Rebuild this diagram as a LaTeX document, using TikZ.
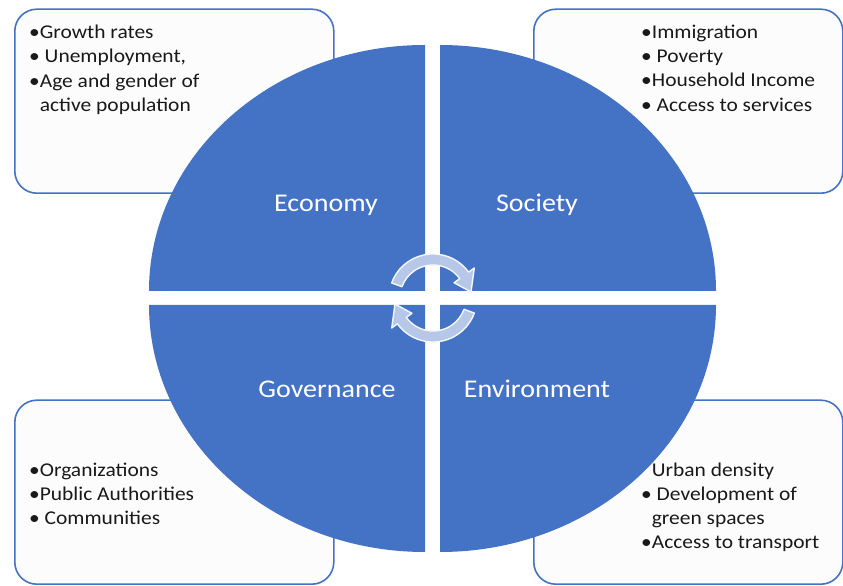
\documentclass[tikz,border=0pt]{standalone}
\usepackage{fontspec}
\setmainfont{Carlito}[FakeStretch=1.1]
\usepackage{tikz}
\usepackage{xcolor}
\usetikzlibrary{positioning}

\definecolor{quadblue}{HTML}{4472C4}
\definecolor{turnfill}{HTML}{B7C7E7}

\begin{document}
\begin{tikzpicture}[x=1pt,y=1pt,
infobox/.style={draw=quadblue,line width=1.6pt,rounded corners=22pt,fill=white!99!black,minimum width=319pt,minimum height=184pt,anchor=south west,inner sep=0pt},
itemlist/.style={align=left,anchor=north west,inner sep=0pt,font=\fontsize{19.5}{24.2}\selectfont,text=black!90},
quad/.style={fill=quadblue,draw=none},
quadlabel/.style={anchor=base,inner sep=0pt,text=white,font=\fontsize{25.5}{30}\selectfont},
turnarrow/.style={fill=turnfill,draw=white!85!turnfill,line width=1.4pt,line join=round},
turn/.pic={\path[turnarrow] (160:44pt) arc[start angle=160,end angle=36,radius=44pt] -- (36:51pt) -- (9:38.5pt) -- (36:26pt) -- (36:33pt) arc[start angle=36,end angle=160,radius=33pt] -- cycle;}
]
\useasboundingbox (0,0) rectangle (843,586);

\node[infobox] (econbox) at (14,392) {};
\node[infobox,minimum width=309pt] (socbox) at (533,392) {};
\node[infobox] (govbox) at (14,1) {};
\node[infobox,minimum width=309pt] (envbox) at (533,1) {};

\node[itemlist] (econlist) at ([shift={(15,-16.5)}]econbox.north west)
  {\textbullet Growth rates\\\textbullet\ Unemployment,\\\textbullet Age and gender of\\\phantom{\textbullet}active population};
\node[itemlist] (soclist) at ([shift={(108,-16.5)}]socbox.north west)
  {\textbullet Immigration\\\textbullet\ Poverty\\\textbullet Household Income\\\textbullet\ Access to services};
\node[itemlist] (govlist) at ([shift={(15,-63)}]govbox.north west)
  {\textbullet Organizations\\\textbullet Public Authorities\\\textbullet\ Communities};
\node[itemlist] (envlist) at ([shift={(108,-63)}]envbox.north west)
  {\phantom{\textbullet}Urban density\\\textbullet\ Development of\\\phantom{\textbullet}green spaces\\\textbullet Access to transport};

\path[quad] (425,295) -- (149,295) arc[start angle=180,end angle=90,x radius=276pt,y radius=246pt] -- cycle;
\path[quad] (440,295) -- (716,295) arc[start angle=0,end angle=90,x radius=276pt,y radius=246pt] -- cycle;
\path[quad] (425,281) -- (149,281) arc[start angle=180,end angle=270,x radius=276pt,y radius=247pt] -- cycle;
\path[quad] (440,281) -- (716,281) arc[start angle=0,end angle=-90,x radius=276pt,y radius=247pt] -- cycle;

\node[quadlabel] (econ) at (326,374) {Economy};
\node[quadlabel] (soc) at (537,374) {Society};
\node[quadlabel] (gov) at (327,188) {Governance};
\node[quadlabel] (env) at (537,188) {Environment};

\pic at (433,288) {turn};
\pic[rotate=180] at (433,288) {turn};
\end{tikzpicture}
\end{document}
